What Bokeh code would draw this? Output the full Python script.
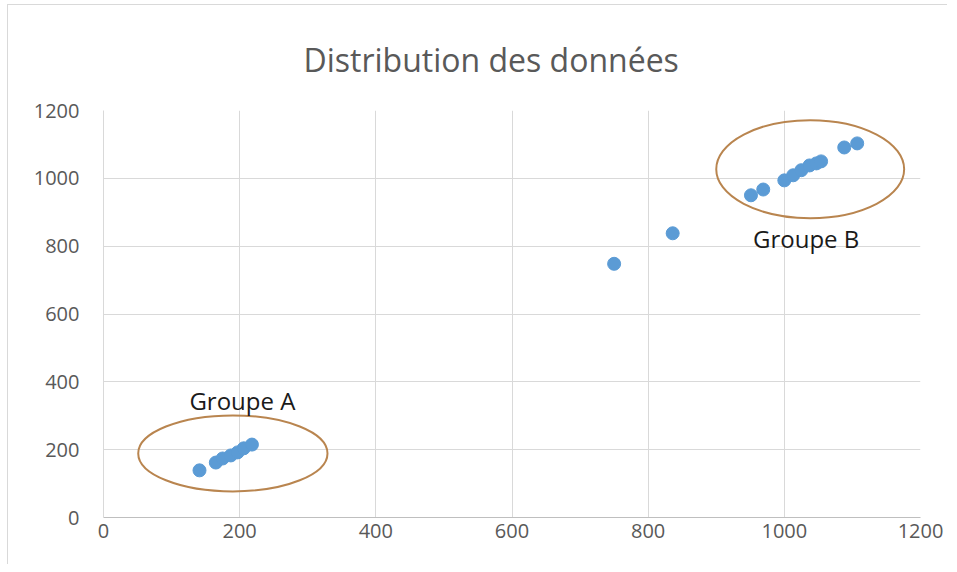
from bokeh.plotting import figure
from bokeh.models import Range1d, Label, FixedTicker
from bokeh.embed import file_html
from bokeh.resources import INLINE

# data
x_values = [141, 165, 175, 187, 197, 206, 218,
            750, 836,
            951, 969, 1000, 1013, 1025, 1037, 1047, 1054, 1088, 1107]
y_values = [139, 162, 174, 183, 192, 204, 215,
            748, 838,
            950, 967, 994, 1009, 1024, 1038, 1044, 1050, 1091, 1103]

group_names = ["Groupe A", "Groupe B"]
group_cx = [190, 1038]
group_cy = [189, 1027]
group_w = [278, 276]
group_h = [224, 289]
label_x = [204, 1032]
label_y = [345, 823]

ticks = [0, 200, 400, 600, 800, 1000, 1200]

p = figure(width=940, height=560, output_backend="svg", toolbar_location=None,
           x_range=Range1d(0, 1200), y_range=Range1d(0, 1200),
           min_border_left=95, min_border_right=28, min_border_top=105,
           min_border_bottom=48)

p.title.text = "Distribution des données"
p.title.align = "left"
p.title.offset = 200
p.title.text_font = "Open Sans"
p.title.text_font_size = "32px"
p.title.text_font_style = "normal"
p.title.text_color = "#595959"
p.title.standoff = 60

p.outline_line_color = None
p.background_fill_color = "white"
p.border_fill_color = "white"

for ax in (p.xaxis[0], p.yaxis[0]):
    ax.ticker = FixedTicker(ticks=ticks)
    ax.major_tick_line_color = None
    ax.minor_tick_line_color = None
    ax.major_label_text_font = "Open Sans"
    ax.major_label_text_font_size = "20px"
    ax.major_label_text_color = "#595959"

p.xaxis.axis_line_color = "#bfbfbf"
p.yaxis.axis_line_color = "#d9d9d9"
p.yaxis.major_label_standoff = 18
p.xaxis.major_label_standoff = 0

p.xgrid.ticker = FixedTicker(ticks=ticks)
p.ygrid.ticker = FixedTicker(ticks=ticks)
p.xgrid.grid_line_color = "#d9d9d9"
p.ygrid.grid_line_color = "#d9d9d9"

p.ellipse(x=group_cx, y=group_cy, width=group_w, height=group_h,
          fill_color=None, line_color="#b9854f", line_width=2)

p.scatter(x=x_values, y=y_values, size=13, fill_color="#5b9bd5",
          line_color="#5b9bd5")

for name, lx, ly in zip(group_names, label_x, label_y):
    p.add_layout(Label(x=lx, y=ly, text=name, text_align="center",
                       text_baseline="middle", text_font="Open Sans",
                       text_font_size="24px", text_color="#1a1a1a"))

p.styles = {"margin-left": "7px", "margin-top": "4px",
            "border-left": "1px solid #d9d9d9", "border-top": "1px solid #d9d9d9"}

open("out.html", "w").write(file_html(p, INLINE))
